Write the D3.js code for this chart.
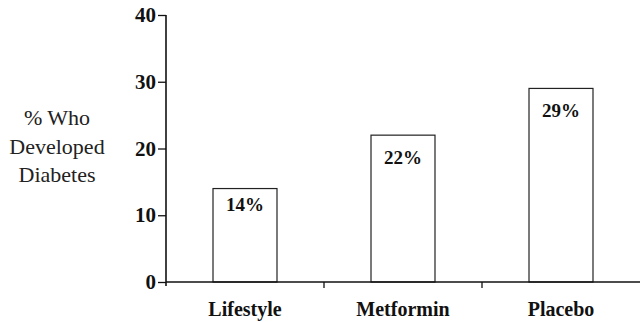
<!DOCTYPE html>
<html><head><meta charset="utf-8">
<script src="https://cdn.jsdelivr.net/npm/d3@7"></script>
<style>body{margin:0;background:#fff}svg{display:block}</style>
</head><body>
<script>
const categories = ["Lifestyle", "Metformin", "Placebo"];
const values = [14, 22, 29];
const valueLabels = ["14%", "22%", "29%"];
const yTicks = [0, 10, 20, 30, 40];
const yTitle = ["% Who", "Developed", "Diabetes"];

(function () {
const W = 640, H = 322;
const mLeft = 166, mRight = 640, mTop = 15, mBottom = 282;
const labelOffset = [22, 29, 29];
const svg = d3.select("body").append("svg").attr("width", W).attr("height", H);
const font = '"Liberation Serif","Times New Roman",serif';

const x = d3.scaleBand().domain(categories).range([mLeft, mRight])
  .paddingInner(0.595).paddingOuter(0.2975);
const y = d3.scaleLinear().domain([0, 40]).range([mBottom, mTop]);

// bars
svg.selectAll("rect.bar").data(values).join("rect").attr("class", "bar")
  .attr("x", (d, i) => x(categories[i]))
  .attr("y", d => y(d))
  .attr("width", x.bandwidth())
  .attr("height", d => y(0) - y(d))
  .attr("fill", "#fff").attr("stroke", "#222").attr("stroke-width", 1.2);

svg.selectAll("text.val").data(values).join("text").attr("class", "val")
  .attr("x", (d, i) => x(categories[i]) + x.bandwidth() / 2)
  .attr("y", (d, i) => y(d) + labelOffset[i])
  .attr("text-anchor", "middle")
  .style("font-family", font).style("font-weight", "bold").style("font-size", "19px")
  .attr("fill", "#111")
  .text((d, i) => valueLabels[i]);

// y axis
const yAxis = d3.axisLeft(y).tickValues(yTicks).tickSize(8).tickPadding(2);
const gy = svg.append("g").attr("transform", `translate(${mLeft},0)`).call(yAxis);
gy.select(".domain").remove();
gy.selectAll(".tick line").attr("stroke", "#111").attr("stroke-width", 1.3);
gy.selectAll(".tick text").style("font-family", font).style("font-weight", "bold")
  .style("font-size", "21px").attr("fill", "#111");
svg.append("line").attr("x1", mLeft).attr("x2", mLeft).attr("y1", y(40)).attr("y2", mBottom + 4)
  .attr("stroke", "#111").attr("stroke-width", 1.6);

// x axis
const xAxis = d3.axisBottom(x).tickSize(0).tickPadding(20);
const gx = svg.append("g").attr("transform", `translate(0,${mBottom})`).call(xAxis);
gx.select(".domain").remove();
gx.selectAll(".tick text").style("font-family", font).style("font-weight", "bold")
  .style("font-size", "20px").attr("fill", "#111");
svg.append("line").attr("x1", mLeft).attr("x2", mRight).attr("y1", mBottom).attr("y2", mBottom)
  .attr("stroke", "#111").attr("stroke-width", 1.6);
const step = x.step();
svg.selectAll("line.xt").data(categories.slice(1)).join("line").attr("class", "xt")
  .attr("x1", d => x(d) - x.paddingInner() * step / 2)
  .attr("x2", d => x(d) - x.paddingInner() * step / 2)
  .attr("y1", mBottom).attr("y2", mBottom + 6)
  .attr("stroke", "#111").attr("stroke-width", 1.3);

// y title
const t = svg.append("text").style("font-family", font).style("font-size", "22px")
  .attr("fill", "#222").attr("text-anchor", "middle");
yTitle.forEach((s, i) => t.append("tspan").attr("x", 57).attr("y", 125 + i * 28.5).text(s));
})();
</script>
</body></html>
